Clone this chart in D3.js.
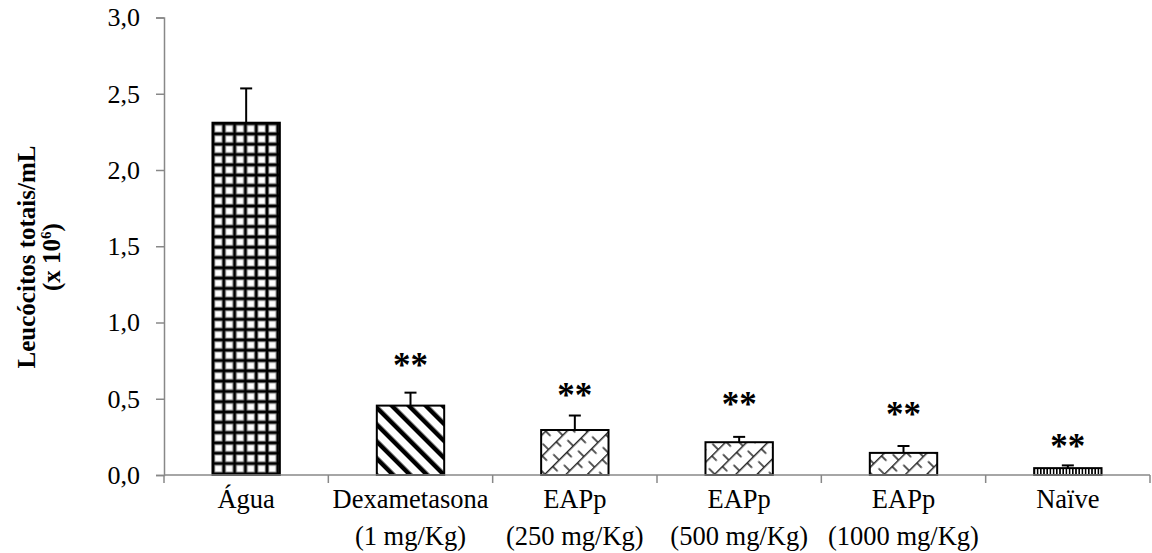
<!DOCTYPE html>
<html><head><meta charset="utf-8">
<script src="https://cdn.jsdelivr.net/npm/d3@7"></script>
<style>body{margin:0;background:#fff}svg{display:block}svg text{font-family:'Liberation Serif','DejaVu Serif',serif !important}</style>
</head><body><div id="chart"></div>
<script>
const categoriesLine1 = ["Água","Dexametasona","EAPp","EAPp","EAPp","Naïve"];
const categoriesLine2 = ["","(1 mg/Kg)","(250 mg/Kg)","(500 mg/Kg)","(1000 mg/Kg)",""];
const means = [2.31, 0.455, 0.295, 0.215, 0.145, 0.045];
const errors = [0.225, 0.085, 0.095, 0.035, 0.045, 0.018];
const sigLabels = ["","**","**","**","**","**"];
const sigLevels = [0, 0.745, 0.548, 0.495, 0.425, 0.218];
const patterns = ["grid","stripes","trellis","trellis","trellis","vlines"];
const yTicks = [0,0.5,1.0,1.5,2.0,2.5,3.0];

const FONT="Liberation Serif";
const W=1152,H=553;
const m={left:164,right:2,top:17.5,bottom:78};
const svg=d3.select("#chart").append("svg").attr("width",W).attr("height",H).attr("font-family",FONT);
const defs=svg.append("defs");

// grid pattern
const pg=defs.append("pattern").attr("id","grid").attr("patternUnits","userSpaceOnUse").attr("width",10.8).attr("height",10.3).attr("x",213).attr("y",0);
pg.append("rect").attr("width",10.8).attr("height",10.3).attr("fill","#fff");
pg.append("rect").attr("x",1.7).attr("y",1.7).attr("width",7.4).attr("height",6.9).attr("fill","none").attr("stroke","#999").attr("stroke-width",1.2);
[[0,0,10.8,0],[0,10.3,10.8,10.3],[0,0,0,10.3],[10.8,0,10.8,10.3]].forEach(c=>
 pg.append("line").attr("x1",c[0]).attr("y1",c[1]).attr("x2",c[2]).attr("y2",c[3]).attr("stroke","#000").attr("stroke-width",2.8));

// diagonal stripes "\"
const ps=defs.append("pattern").attr("id","stripes").attr("patternUnits","userSpaceOnUse").attr("width",12).attr("height",12).attr("patternTransform","rotate(-45)");
ps.append("rect").attr("width",12).attr("height",12).attr("fill","#fff");
ps.append("rect").attr("x",0).attr("y",0).attr("width",4.5).attr("height",12).attr("fill","#000");

// trellis (diagonal brick)
const bw=20,bh=15;
const pt=defs.append("pattern").attr("id","trellis").attr("patternUnits","userSpaceOnUse").attr("width",bw).attr("height",bh).attr("patternTransform","rotate(-45)");
pt.append("rect").attr("width",bw).attr("height",bh).attr("fill","#fff");
pt.append("line").attr("x1",0).attr("x2",bw).attr("y1",0.7).attr("y2",0.7).attr("stroke","#222").attr("stroke-width",1.5);
pt.append("line").attr("x1",1).attr("x2",1).attr("y1",0).attr("y2",bh/2).attr("stroke","#222").attr("stroke-width",1.5);
pt.append("line").attr("x1",bw/2).attr("x2",bw/2).attr("y1",bh/2).attr("y2",bh).attr("stroke","#222").attr("stroke-width",1.5);

// vertical lines
const pv=defs.append("pattern").attr("id","vlines").attr("patternUnits","userSpaceOnUse").attr("width",3.2).attr("height",10);
pv.append("rect").attr("width",3.2).attr("height",10).attr("fill","#fff");
pv.append("rect").attr("width",1.6).attr("height",10).attr("fill","#000");

const x=d3.scaleBand().domain(d3.range(categoriesLine1.length)).range([m.left,W-m.right]).paddingInner(0.59).paddingOuter(0.295);
const xb=d3.scaleBand().domain(d3.range(categoriesLine1.length)).range([m.left,W-m.right]);
const y=d3.scaleLinear().domain([0,3]).range([H-m.bottom,m.top]);

// y axis
const ya=svg.append("g").attr("transform",`translate(${m.left},0)`)
 .call(d3.axisLeft(y).tickValues(yTicks).tickSize(8).tickFormat(d=>d3.format(".1f")(d).replace(".",",")));
ya.attr("font-family",FONT).attr("font-size",26);
ya.select(".domain").attr("stroke","#888").attr("stroke-width",1.5);
ya.selectAll(".tick line").attr("stroke","#888").attr("stroke-width",1.5);
ya.selectAll(".tick text").attr("fill","#000").attr("x",-24);

// bars
const g=svg.append("g");
g.selectAll("rect.bar").data(means).join("rect").attr("class","bar")
 .attr("x",(d,i)=>x(i)).attr("width",x.bandwidth())
 .attr("y",d=>y(d)).attr("height",d=>y(0)-y(d))
 .attr("fill",(d,i)=>`url(#${patterns[i]})`).attr("stroke","#000").attr("stroke-width",2);

// error bars
const eb=g.selectAll("g.err").data(means).join("g").attr("class","err");
eb.append("line").attr("x1",(d,i)=>x(i)+x.bandwidth()/2).attr("x2",(d,i)=>x(i)+x.bandwidth()/2)
 .attr("y1",d=>y(d)).attr("y2",(d,i)=>y(d+errors[i])).attr("stroke","#000").attr("stroke-width",2);
eb.append("line").attr("x1",(d,i)=>x(i)+x.bandwidth()/2-6).attr("x2",(d,i)=>x(i)+x.bandwidth()/2+6)
 .attr("y1",(d,i)=>y(d+errors[i])).attr("y2",(d,i)=>y(d+errors[i])).attr("stroke","#000").attr("stroke-width",2);

// significance
g.selectAll("text.sig").data(sigLabels).join("text").attr("class","sig")
 .attr("x",(d,i)=>x(i)+x.bandwidth()/2).attr("y",(d,i)=>y(sigLevels[i])+16)
 .attr("text-anchor","middle").attr("font-size",35).attr("font-weight","bold").text(d=>d);

// x axis
const xa=svg.append("g").attr("transform",`translate(0,${y(0)})`);
xa.append("line").attr("x1",m.left).attr("x2",W-m.right).attr("y1",0).attr("y2",0).attr("stroke","#888").attr("stroke-width",1.5);
const bounds=d3.range(categoriesLine1.length+1).map(i=>i<categoriesLine1.length?xb(i):W-m.right);
xa.selectAll("line.t").data(bounds).join("line").attr("class","t").attr("x1",d=>d).attr("x2",d=>d).attr("y1",0).attr("y2",8).attr("stroke","#888").attr("stroke-width",1.5);
const lab=xa.selectAll("text.lab").data(categoriesLine1).join("text").attr("class","lab")
 .attr("x",(d,i)=>xb(i)+xb.bandwidth()/2).attr("text-anchor","middle").attr("font-size",26.5);
lab.append("tspan").attr("y",33).text(d=>d);
lab.append("tspan").attr("x",(d,i)=>xb(i)+xb.bandwidth()/2).attr("y",70).text((d,i)=>categoriesLine2[i]);

// y label
const yl=svg.append("text").attr("transform","translate(35,257) rotate(-90)").attr("text-anchor","middle").attr("font-size",25).attr("font-weight","bold");
yl.append("tspan").attr("x",0).attr("y",0).text("Leucócitos totais/mL");
yl.append("tspan").attr("x",0).attr("y",25).text("(x 10");
yl.append("tspan").attr("dy",-9).attr("font-size",15).text("6");
yl.append("tspan").attr("dy",9).text(")");
</script></body></html>
